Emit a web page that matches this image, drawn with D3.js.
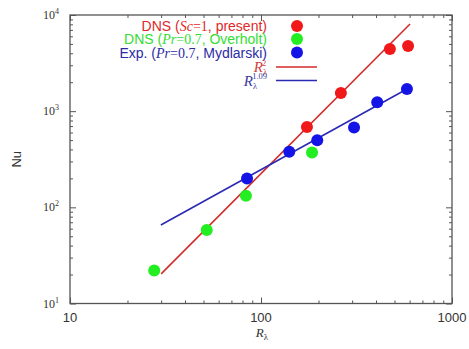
<!DOCTYPE html>
<meta charset="utf-8">
<script src="https://d3js.org/d3.v7.min.js"></script>
<style>
  body { margin: 0; background: #fff; }
  .sans { font-family: Arial, "Liberation Sans", sans-serif; }
  .serif { font-family: "Times New Roman", "Liberation Serif", serif; }
</style>
<div id="chart"></div>
<script>
// data
var dnsX = [174, 262, 473, 589];
var dnsY = [686, 1545, 4440, 4760];
var overholtX = [27.6, 52, 83.4, 185];
var overholtY = [22, 58, 132, 371];
var mydlarskiX = [84.5, 140.6, 197, 307, 406, 581];
var mydlarskiY = [200, 379, 498, 675, 1240, 1702];
// fit lines (end points)
var fit2X = [30, 603];
var fit2Y = [20.3, 8060];
var fit109X = [29.9, 581];
var fit109Y = [65.6, 1702];

var xMajor = [10, 100, 1000];
var yMajor = [10, 100, 1000, 10000];
var yExp = ["1", "2", "3", "4"];

var W = 469, H = 349;
var mLeft = 70, mRight = 452, mTop = 15, mBottom = 303.5;

var svg = d3.select("#chart").append("svg")
  .attr("width", W).attr("height", H);

var x = d3.scaleLog().domain([10, 1000]).range([mLeft, mRight]);
var y = d3.scaleLog().domain([10, 10000]).range([mBottom, mTop]);

var xMinor = x.ticks().filter(function(d) { return xMajor.indexOf(d) < 0; });
var yMinor = y.ticks().filter(function(d) { return yMajor.indexOf(d) < 0; });

function styleAxis(g) {
  g.select(".domain").remove();
  g.selectAll("line").attr("stroke", "#555").attr("stroke-width", 1);
}

// ticks pointing inward on all four sides
svg.append("g").attr("transform", "translate(0," + mBottom + ")")
  .call(d3.axisBottom(x).tickValues(xMinor).tickSize(-3).tickFormat("")).call(styleAxis);
svg.append("g").attr("transform", "translate(0," + mBottom + ")")
  .call(d3.axisBottom(x).tickValues(xMajor).tickSize(-6).tickFormat("")).call(styleAxis);
svg.append("g").attr("transform", "translate(0," + mTop + ")")
  .call(d3.axisTop(x).tickValues(xMinor).tickSize(-3).tickFormat("")).call(styleAxis);
svg.append("g").attr("transform", "translate(0," + mTop + ")")
  .call(d3.axisTop(x).tickValues(xMajor).tickSize(-6).tickFormat("")).call(styleAxis);
svg.append("g").attr("transform", "translate(" + mLeft + ",0)")
  .call(d3.axisLeft(y).tickValues(yMinor).tickSize(-3).tickFormat("")).call(styleAxis);
svg.append("g").attr("transform", "translate(" + mLeft + ",0)")
  .call(d3.axisLeft(y).tickValues(yMajor).tickSize(-6).tickFormat("")).call(styleAxis);
svg.append("g").attr("transform", "translate(" + mRight + ",0)")
  .call(d3.axisRight(y).tickValues(yMinor).tickSize(-3).tickFormat("")).call(styleAxis);
svg.append("g").attr("transform", "translate(" + mRight + ",0)")
  .call(d3.axisRight(y).tickValues(yMajor).tickSize(-6).tickFormat("")).call(styleAxis);

// frame
svg.append("rect")
  .attr("x", mLeft).attr("y", mTop)
  .attr("width", mRight - mLeft).attr("height", mBottom - mTop)
  .attr("fill", "none").attr("stroke", "#555").attr("stroke-width", 1.3);

// x tick labels
svg.append("g").selectAll("text").data(xMajor).enter().append("text")
  .attr("class", "sans")
  .attr("x", function(d) { return x(d); })
  .attr("y", mBottom + 18)
  .attr("text-anchor", "middle")
  .style("font-size", "13px").style("fill", "#333")
  .text(function(d) { return d; });

// y tick labels 10^n
var yl = svg.append("g").selectAll("text").data(yMajor).enter().append("text")
  .attr("class", "serif")
  .attr("x", mLeft - 27)
  .attr("y", function(d) { return y(d) + 4; })
  .style("font-size", "12px").style("fill", "#333");
yl.append("tspan").text("10");
yl.append("tspan").attr("dy", -5).style("font-size", "8px")
  .text(function(d, i) { return yExp[i]; });

// axis titles
svg.append("text").attr("class", "sans")
  .attr("transform", "translate(21," + ((mTop + mBottom) / 2) + ") rotate(-90)")
  .attr("text-anchor", "middle")
  .style("font-size", "13px").style("fill", "#333")
  .text("Nu");
var xt = svg.append("text").attr("class", "serif")
  .attr("x", (mLeft + mRight) / 2 + 1).attr("y", mBottom + 33)
  .attr("text-anchor", "middle")
  .style("font-size", "13px").style("fill", "#333");
xt.append("tspan").style("font-style", "italic").text("R");
xt.append("tspan").attr("dy", 3).style("font-size", "9px").text("λ");

// fit lines
var line = d3.line().x(function(d) { return x(d[0]); }).y(function(d) { return y(d[1]); });
svg.append("path").datum(d3.zip(fit2X, fit2Y)).attr("d", line)
  .attr("fill", "none").attr("stroke", "#d42a2a").attr("stroke-width", 1.6);
svg.append("path").datum(d3.zip(fit109X, fit109Y)).attr("d", line)
  .attr("fill", "none").attr("stroke", "#2a2ab4").attr("stroke-width", 1.6);

// points
function dots(xs, ys, color) {
  svg.append("g").selectAll("circle").data(d3.zip(xs, ys)).enter().append("circle")
    .attr("cx", function(d) { return x(d[0]); })
    .attr("cy", function(d) { return y(d[1]); })
    .attr("r", 6)
    .attr("fill", color);
}
dots(overholtX, overholtY, "#22ee22");
dots(mydlarskiX, mydlarskiY, "#1414e6");
dots(dnsX, dnsY, "#f01818");

// legend
var legX = 267, markX = 297;
var legend = [
  {parts: [["DNS (", 0], ["Sc", 1], ["=1", 2], [", present)", 0]], color: "#e02828", dot: "#f01818", y: 26},
  {parts: [["DNS (", 0], ["Pr", 1], ["=0.7", 2], [", Overholt)", 0]], color: "#33dd33", dot: "#22ee22", y: 39},
  {parts: [["Exp. (", 0], ["Pr", 1], ["=0.7", 2], [", Mydlarski)", 0]], color: "#2b2ba6", dot: "#1414e6", y: 52.5}
];
legend.forEach(function(l) {
  var t = svg.append("text").attr("class", "sans")
    .attr("x", legX).attr("y", l.y + 5)
    .attr("text-anchor", "end")
    .style("font-size", "14px").style("fill", l.color);
  l.parts.forEach(function(p) {
    var s = t.append("tspan").text(p[0]);
    if (p[1] === 1) s.attr("class", "serif").style("font-style", "italic");
    else if (p[1] === 2) s.attr("class", "serif");
  });
  svg.append("circle").attr("cx", markX).attr("cy", l.y).attr("r", 6).attr("fill", l.dot);
});

var fits = [
  {exp: "2", color: "#cc4444", line: "#d42a2a", y: 67},
  {exp: "1.09", color: "#3a3aa0", line: "#2a2ab4", y: 80.5}
];
fits.forEach(function(f) {
  var t = svg.append("text").attr("class", "serif")
    .attr("x", legX).attr("y", f.y + 5)
    .attr("text-anchor", "end")
    .style("font-size", "15px").style("fill", f.color);
  t.append("tspan").style("font-style", "italic").text("R");
  t.append("tspan").attr("dy", 3).style("font-size", "8.5px").text("λ");
  t.append("tspan").attr("dx", -5).attr("dy", -9.5).style("font-size", "8.5px").text(f.exp);
  svg.append("line").attr("x1", 276).attr("x2", 317)
    .attr("y1", f.y).attr("y2", f.y)
    .attr("stroke", f.line).attr("stroke-width", 1.6);
});
</script>
